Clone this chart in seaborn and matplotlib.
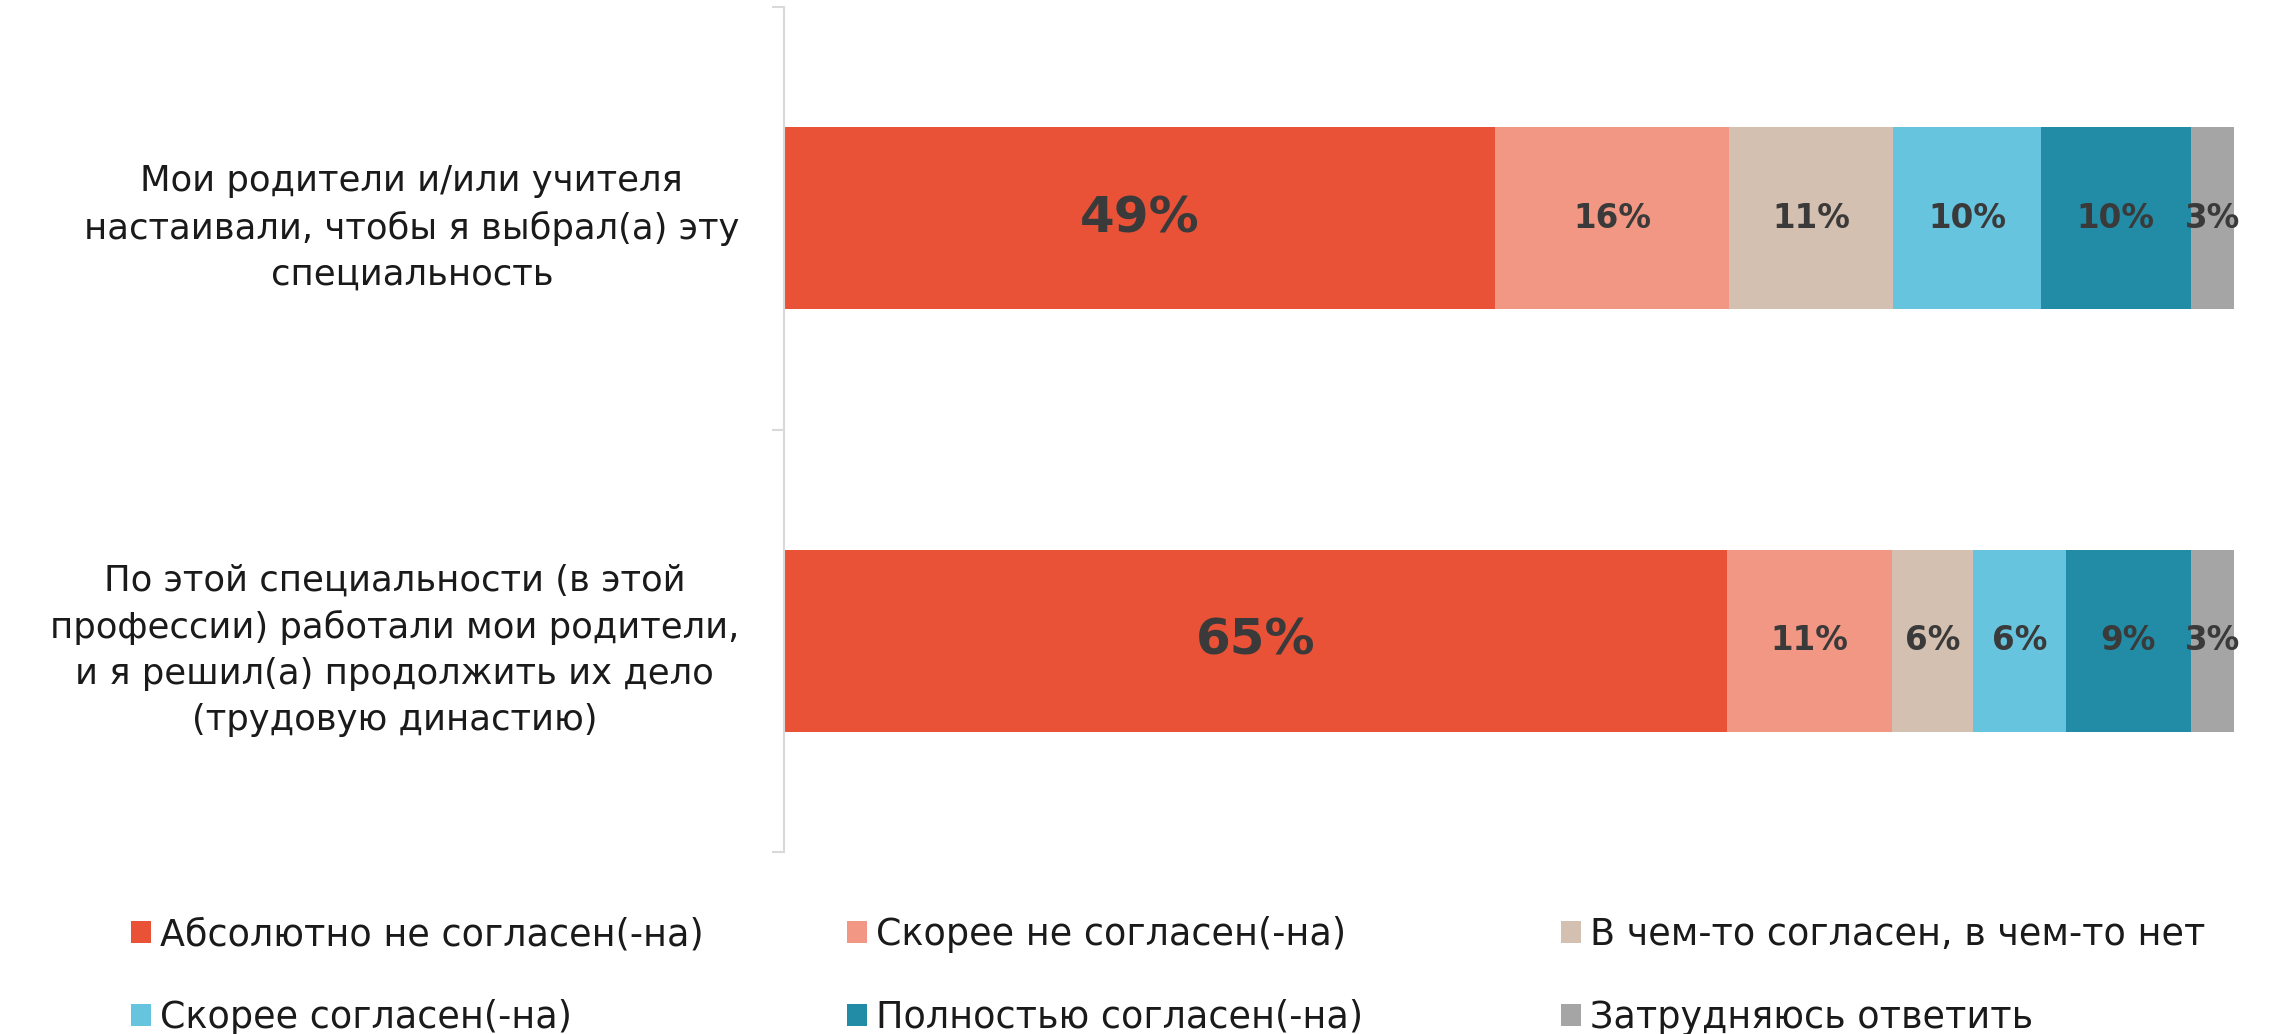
import matplotlib
matplotlib.use("Agg")
import matplotlib.pyplot as plt
from matplotlib.patches import Patch
import seaborn as sns
import pandas as pd
import numpy as np

# ---------------- data ----------------
questions = [
    "Мои родители и/или учителя\nнастаивали, чтобы я выбрал(а) эту\nспециальность",
    "По этой специальности (в этой\nпрофессии) работали мои родители,\nи я решил(а) продолжить их дело\n(трудовую династию)",
]
answers = [
    "Абсолютно не согласен(-на)",
    "Скорее не согласен(-на)",
    "В чем-то согласен, в чем-то нет",
    "Скорее согласен(-на)",
    "Полностью согласен(-на)",
    "Затрудняюсь ответить",
]
abs_disagree = [49.0, 65.0]
rather_disagree = [16.2, 11.4]
partly = [11.3, 5.6]
rather_agree = [10.2, 6.4]
fully_agree = [10.3, 8.6]
hard_to_say = [3.0, 3.0]

colors = ["#EA5237", "#F29784", "#D4C0B1", "#67C4DE", "#228BA5", "#A5A5A5"]

series = [abs_disagree, rather_disagree, partly, rather_agree, fully_agree, hard_to_say]

# ---------------- build table ----------------
vals = np.array(series)            # shape (6, 2)
cum = np.cumsum(vals, axis=0)
rows = []
for i, ans in enumerate(answers):
    for j, q in enumerate(questions):
        rows.append({"question": q, "answer": ans, "value": vals[i, j],
                     "cum": cum[i, j], "start": cum[i, j] - vals[i, j]})
df = pd.DataFrame(rows)

sns.set_theme(style="white")
plt.rcParams["font.family"] = ["DejaVu Sans"]

fig = plt.figure(figsize=(22.85, 10.34), dpi=100)
ax = fig.add_axes([784 / 2285, 1 - 852 / 1034, (2234 - 784) / 2285, (852 - 7) / 1034])

# stacked bars: draw cumulative totals from last to first so they overlay
for i in range(len(answers) - 1, -1, -1):
    sub = df[df["answer"] == answers[i]]
    sns.barplot(data=sub, x="cum", y="question", order=questions, orient="h",
                color=colors[i], saturation=1, width=0.43, linewidth=0, ax=ax,
                errorbar=None)

# value labels
for _, r in df.iterrows():
    j = questions.index(r["question"])
    big = r["answer"] == answers[0]
    ax.text(r["start"] + r["value"] / 2, j, f"{round(r['value'])}%",
            ha="center", va="center", color="#3A3A3A", fontweight="bold",
            fontsize=36 if big else 23.5)

ax.set_xlim(0, 100)
ax.set_ylim(1.5, -0.5)
ax.set_xlabel("")
ax.set_ylabel("")
ax.set_xticks([])
ax.set_yticks([0, 1])
ax.set_yticklabels(questions, fontsize=25.5, color="#1a1a1a", multialignment="center")
for t in ax.get_yticklabels():
    t.set_linespacing(1.45)
ax.set_yticks([-0.5, 0.5, 1.5], minor=True)
ax.tick_params(axis="y", which="major", length=0, pad=32)
ax.tick_params(axis="y", which="minor", length=9, color="#D9D9D9", width=1.5, left=True)
for s in ["top", "right", "bottom"]:
    ax.spines[s].set_visible(False)
ax.spines["left"].set_color("#D9D9D9")
ax.spines["left"].set_linewidth(1.5)

# legend: three columns of two entries
col_x = [131 / 2285, 847 / 2285, 1561 / 2285]
for c in range(3):
    idx = [c, c + 3]
    handles = [Patch(facecolor=colors[k], edgecolor="none") for k in idx]
    labels = [answers[k] for k in idx]
    fig.legend(handles, labels, loc="center left",
               bbox_to_anchor=(col_x[c], 1 - 976 / 1034),
               frameon=False, fontsize=26.3, handlelength=0.55, handleheight=0.55,
               handletextpad=0.25, labelspacing=1.25, borderpad=0, borderaxespad=0,
               labelcolor="#1a1a1a")

fig.savefig("out.png", dpi=100, facecolor="white")
